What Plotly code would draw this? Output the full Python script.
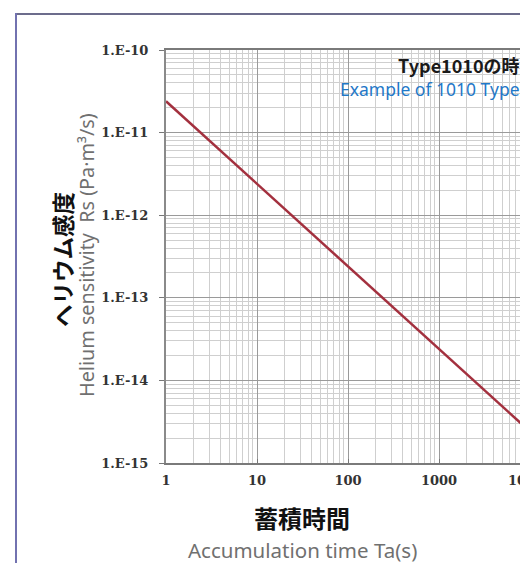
import plotly.graph_objects as go

# Data
time_s = [1, 10, 100, 1000, 10000]
sensitivity = [2.4e-11, 2.4e-12, 2.4e-13, 2.4e-14, 2.4e-15]

x_tickvals = [1, 10, 100, 1000]
x_ticktext = ["1", "10", "100", "1000"]
y_tickvals = [1e-10, 1e-11, 1e-12, 1e-13, 1e-14, 1e-15]
y_ticktext = ["1.E-10", "1.E-11", "1.E-12", "1.E-13", "1.E-14", "1.E-15"]
cut_tick_text = "10000"

OFF = 8  # page body margin
W, H = 528 - OFF, 563 - OFF
# reference-pixel geometry of the plot area
REF_L, REF_T, REF_B = 166, 50, 463
L = REF_L - OFF
T = REF_T - OFF
B = H - (REF_B - OFF)
R = 0
pw = W - L - R
ph = H - T - B
px_per_decade = 91.0
x_end = pw / px_per_decade

def px_to_paper_x(px):
    return (px - OFF - L) / pw

def py_to_paper_y(py):
    return (REF_B - py) / ph

tick_font = dict(family="DejaVu Serif", size=13, color="#333333", weight="bold")

fig = go.Figure()
fig.add_trace(go.Scatter(
    x=time_s, y=sensitivity, mode="lines",
    line=dict(color="#a3303e", width=2.5),
    showlegend=False, cliponaxis=True,
))

fig.update_xaxes(
    type="log", range=[0, x_end],
    tickvals=x_tickvals, ticktext=x_ticktext,
    tickfont=tick_font, ticklabelstandoff=4,
    ticks="inside", ticklen=4, tickcolor="#777777", tickwidth=1,
    showline=True, linecolor="#7a7a7a", linewidth=2, mirror=True,
    showgrid=True, gridcolor="#9a9a9a", gridwidth=1,
    minor=dict(dtick="D1", showgrid=True, gridcolor="#cfcfcf", gridwidth=1, ticks=""),
    zeroline=False,
)
fig.update_yaxes(
    type="log", range=[-15, -10],
    tickvals=y_tickvals, ticktext=y_ticktext,
    tickfont=tick_font, ticklabelstandoff=8,
    ticks="outside", ticklen=5, tickcolor="#777777", tickwidth=1,
    showline=True, linecolor="#8a8a8a", linewidth=2,
    showgrid=True, gridcolor="#9a9a9a", gridwidth=1,
    minor=dict(dtick="D1", showgrid=True, gridcolor="#cfcfcf", gridwidth=1, ticks=""),
    zeroline=False,
)

annotations = [
    # partially visible 10000 tick label (beyond the visible range)
    dict(x=px_to_paper_x(REF_L + 4 * px_per_decade), xref="paper", y=py_to_paper_y(480), yref="paper",
         text=cut_tick_text, showarrow=False, font=tick_font, xanchor="center", yanchor="middle"),
    # y titles
    dict(x=px_to_paper_x(62), xref="paper", y=py_to_paper_y(260), yref="paper",
         text="<b>ヘリウム感度</b>", textangle=-90, showarrow=False,
         font=dict(family="Noto Sans CJK JP", size=22.5, color="#111111"),
         xanchor="center", yanchor="middle"),
    dict(x=px_to_paper_x(87), xref="paper", y=py_to_paper_y(255), yref="paper",
         text="Helium sensitivity  Rs (Pa·m³/s)", textangle=-90, showarrow=False,
         font=dict(family="Noto Sans", size=19.8, color="#707070"),
         xanchor="center", yanchor="middle"),
    # x titles
    dict(x=px_to_paper_x(302), xref="paper", y=py_to_paper_y(517), yref="paper",
         text="<b>蓄積時間</b>", showarrow=False,
         font=dict(family="Noto Sans CJK JP", size=24, color="#111111"),
         xanchor="center", yanchor="middle"),
    dict(x=px_to_paper_x(302), xref="paper", y=py_to_paper_y(550), yref="paper",
         text="Accumulation time Ta(s)", showarrow=False,
         font=dict(family="Noto Sans", size=20.5, color="#707070"),
         xanchor="center", yanchor="middle"),
    # top-right note
    dict(x=px_to_paper_x(522), xref="paper", y=py_to_paper_y(65), yref="paper",
         text="<b>Type1010の時</b>", showarrow=False,
         font=dict(family="Noto Sans CJK JP", size=18, color="#1a1a1a"),
         xanchor="right", yanchor="middle"),
    dict(x=px_to_paper_x(522), xref="paper", y=py_to_paper_y(89), yref="paper",
         text="Example of 1010 Type", showarrow=False,
         font=dict(family="Noto Sans", size=17.5, color="#1f78c8"),
         xanchor="right", yanchor="middle"),
]

shapes = [
    dict(type="line", xref="paper", yref="paper",
         x0=px_to_paper_x(16), x1=px_to_paper_x(530),
         y0=py_to_paper_y(14), y1=py_to_paper_y(14),
         line=dict(color="#6c6c8c", width=2)),
    dict(type="line", xref="paper", yref="paper",
         x0=px_to_paper_x(16), x1=px_to_paper_x(16),
         y0=py_to_paper_y(13), y1=py_to_paper_y(565),
         line=dict(color="#7272b0", width=2)),
]

fig.update_layout(
    width=W, height=H,
    margin=dict(l=L, r=R, t=T, b=B),
    paper_bgcolor="white", plot_bgcolor="white",
    annotations=annotations, shapes=shapes,
    showlegend=False,
)

fig.write_html("out.html")
